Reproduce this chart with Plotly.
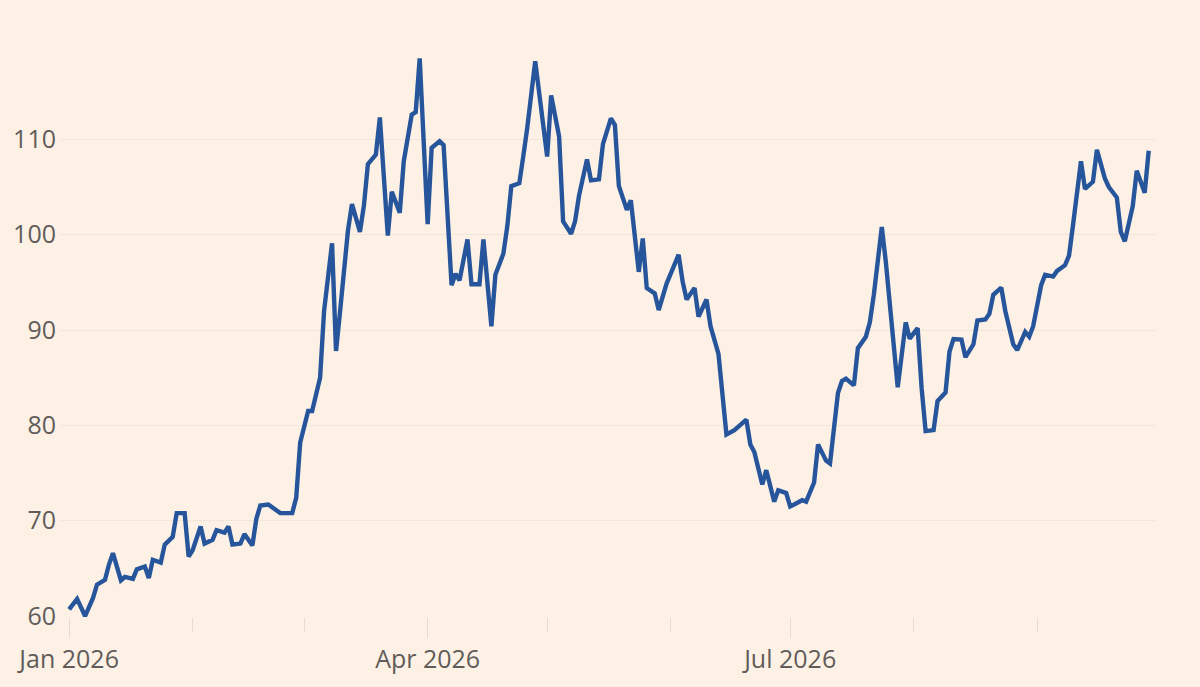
import plotly.graph_objects as go

# Daily closing level
dates = [
    "2026-01-01", "2026-01-03", "2026-01-05", "2026-01-07", "2026-01-08", "2026-01-10",
    "2026-01-11", "2026-01-12", "2026-01-14", "2026-01-15", "2026-01-17", "2026-01-18",
    "2026-01-20", "2026-01-21", "2026-01-22", "2026-01-24", "2026-01-25", "2026-01-27",
    "2026-01-28", "2026-01-30", "2026-01-31", "2026-02-01", "2026-02-03", "2026-02-04",
    "2026-02-06", "2026-02-07", "2026-02-09", "2026-02-10", "2026-02-11", "2026-02-13",
    "2026-02-14", "2026-02-16", "2026-02-17", "2026-02-18", "2026-02-20", "2026-02-21",
    "2026-02-23", "2026-02-24", "2026-02-26", "2026-02-27", "2026-02-28", "2026-03-02",
    "2026-03-03", "2026-03-05", "2026-03-06", "2026-03-08", "2026-03-09", "2026-03-10",
    "2026-03-12", "2026-03-13", "2026-03-15", "2026-03-16", "2026-03-17", "2026-03-19",
    "2026-03-20", "2026-03-22", "2026-03-23", "2026-03-25", "2026-03-26", "2026-03-28",
    "2026-03-29", "2026-03-30", "2026-04-01", "2026-04-02", "2026-04-04", "2026-04-05",
    "2026-04-07", "2026-04-08", "2026-04-09", "2026-04-11", "2026-04-12", "2026-04-14",
    "2026-04-15", "2026-04-17", "2026-04-18", "2026-04-20", "2026-04-21", "2026-04-22",
    "2026-04-24", "2026-04-25", "2026-04-26", "2026-04-28", "2026-04-29", "2026-05-01",
    "2026-05-02", "2026-05-04", "2026-05-05", "2026-05-07", "2026-05-08", "2026-05-09",
    "2026-05-11", "2026-05-12", "2026-05-14", "2026-05-15", "2026-05-17", "2026-05-18",
    "2026-05-19", "2026-05-21", "2026-05-22", "2026-05-24", "2026-05-25", "2026-05-26",
    "2026-05-28", "2026-05-29", "2026-05-31", "2026-06-01", "2026-06-03", "2026-06-04",
    "2026-06-05", "2026-06-07", "2026-06-08", "2026-06-10", "2026-06-11", "2026-06-13",
    "2026-06-14", "2026-06-15", "2026-06-17", "2026-06-18", "2026-06-20", "2026-06-21",
    "2026-06-22", "2026-06-24", "2026-06-25", "2026-06-27", "2026-06-28", "2026-06-30",
    "2026-07-01", "2026-07-02", "2026-07-04", "2026-07-05", "2026-07-07", "2026-07-08",
    "2026-07-10", "2026-07-11", "2026-07-13", "2026-07-14", "2026-07-15", "2026-07-17",
    "2026-07-18", "2026-07-20", "2026-07-21", "2026-07-22", "2026-07-24", "2026-07-25",
    "2026-07-27", "2026-07-28", "2026-07-30", "2026-07-31", "2026-08-02", "2026-08-03",
    "2026-08-04", "2026-08-06", "2026-08-07", "2026-08-09", "2026-08-10", "2026-08-11",
    "2026-08-13", "2026-08-14", "2026-08-16", "2026-08-17", "2026-08-19", "2026-08-20",
    "2026-08-21", "2026-08-23", "2026-08-24", "2026-08-26", "2026-08-27", "2026-08-29",
    "2026-08-30", "2026-08-31", "2026-09-02", "2026-09-03", "2026-09-05", "2026-09-06",
    "2026-09-08", "2026-09-09", "2026-09-10", "2026-09-12", "2026-09-13", "2026-09-15",
    "2026-09-16", "2026-09-18", "2026-09-19", "2026-09-21", "2026-09-22", "2026-09-23",
    "2026-09-25", "2026-09-26", "2026-09-28", "2026-09-29",
]
values = [
    60.7, 61.8, 60.0, 61.9, 63.3, 63.8,
    65.4, 66.6, 63.75, 64.1, 63.9, 64.9,
    65.2, 64.0, 65.9, 65.6, 67.5, 68.3,
    70.8, 70.8, 66.25, 66.9, 69.4, 67.6,
    68.0, 69.0, 68.75, 69.4, 67.5, 67.6,
    68.6, 67.4, 70.2, 71.6, 71.7, 71.4,
    70.8, 70.8, 70.8, 72.4, 78.2, 81.5,
    81.5, 85.0, 92.0, 99.1, 87.8, 91.9,
    100.45, 103.2, 100.3, 103.05, 107.4, 108.4,
    112.3, 99.9, 104.5, 102.3, 107.7, 112.6,
    112.85, 118.5, 101.1, 109.1, 109.8, 109.4,
    94.7, 95.9, 95.2, 99.5, 94.8, 94.8,
    99.5, 90.4, 95.8, 98.0, 100.9, 105.1,
    105.4, 108.2, 111.2, 118.2, 114.6, 108.2,
    114.6, 110.3, 101.4, 100.1, 101.4, 104.1,
    107.9, 105.7, 105.8, 109.5, 112.2, 111.5,
    105.1, 102.6, 103.6, 96.1, 99.6, 94.4,
    93.85, 92.1, 94.9, 95.9, 97.9, 95.1,
    93.2, 94.4, 91.4, 93.2, 90.4, 87.5,
    83.3, 79.05, 79.5, 79.9, 80.6, 78.0,
    77.2, 73.8, 75.3, 72.0, 73.2, 72.9,
    71.5, 71.7, 72.15, 72.0, 74.0, 78.0,
    76.3, 76.0, 83.4, 84.65, 84.9, 84.2,
    88.1, 89.3, 90.8, 93.7, 100.8, 97.2,
    88.5, 84.0, 90.8, 89.1, 90.2, 83.9,
    79.4, 79.5, 82.55, 83.45, 87.75, 89.05,
    89.0, 87.15, 88.5, 91.0, 91.1, 91.7,
    93.7, 94.45, 92.0, 88.5, 87.9, 89.8,
    89.3, 90.4, 94.7, 95.8, 95.6, 96.2,
    96.8, 97.8, 101.0, 107.7, 104.8, 105.55,
    108.9, 105.9, 105.0, 103.9, 100.3, 99.3,
    103.0, 106.7, 104.4, 108.8,
]

y_ticks = [60, 70, 80, 90, 100, 110]

BG = "#FDF1E6"
GRID = "#F3E5D9"
TICK = "#E6DCD3"
TEXT = "#615C59"

fig = go.Figure(
    go.Scatter(
        x=dates,
        y=values,
        mode="lines",
        line=dict(color="#27559B", width=4.4),
        hoverinfo="x+y",
    )
)

fig.update_layout(
    width=1200,
    height=687,
    paper_bgcolor=BG,
    plot_bgcolor=BG,
    margin=dict(l=60, r=44, t=44, b=67),
    showlegend=False,
    font=dict(family="Open Sans, sans-serif", size=25, color=TEXT),
)

fig.update_xaxes(
    type="date",
    range=["2025-12-29 17:00", "2026-09-30 20:00"],
    tick0="2026-01-01",
    dtick="M3",
    tickformat="%b %Y",
    ticks="outside",
    ticklen=20,
    tickwidth=1,
    tickcolor=TICK,
    showgrid=False,
    showline=False,
    zeroline=False,
    minor=dict(dtick="M1", ticks="outside", ticklen=14, tickcolor=TICK, tickwidth=1, showgrid=False),
)

fig.update_yaxes(
    range=[59.9, 120],
    tickvals=y_ticks,
    ticks="",
    showgrid=True,
    gridcolor=GRID,
    gridwidth=1.2,
    zeroline=False,
    showline=False,
    ticklabelstandoff=3,
)

# drop the browser's default page margin so the chart sits flush in the window
fig.write_html(
    "out.html",
    config={"displayModeBar": False},
    post_script="document.body.style.margin='0';document.body.style.background='#FDF1E6';",
)
